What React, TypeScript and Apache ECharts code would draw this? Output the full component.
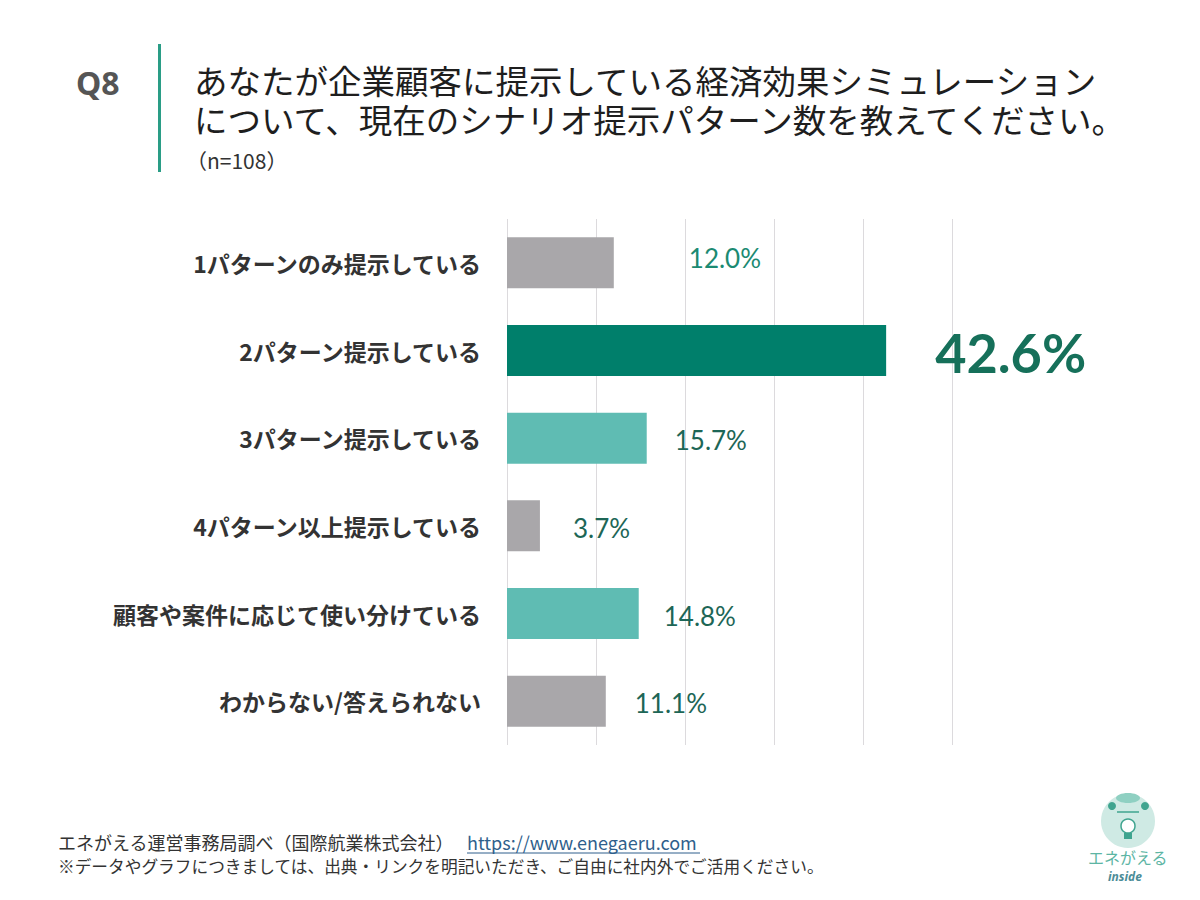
import React, { useEffect, useRef } from "react";
import * as echarts from "echarts";

// Survey answers (n=108), top to bottom
const categories = [
  "1パターンのみ提示している",
  "2パターン提示している",
  "3パターン提示している",
  "4パターン以上提示している",
  "顧客や案件に応じて使い分けている",
  "わからない/答えられない",
];
const values = [12.0, 42.6, 15.7, 3.7, 14.8, 11.1];
const axisTicks = [0, 10, 20, 30, 40, 50];

// Bar fills and label placement per row
const barColors = ["#a9a7aa", "#007f6b", "#5fbcb3", "#a9a7aa", "#5fbcb3", "#a9a7aa"];
const labelGaps = [75, 49, 28, 33, 25, 29];

const JP = "'Noto Sans CJK JP', sans-serif";

export default function App() {
  const ref = useRef<HTMLDivElement>(null);

  useEffect(() => {
    if (!ref.current) return;
    const chart = echarts.init(ref.current, null, { renderer: "svg" });

    const data = values.map((v, i) => {
      const big = i === 1;
      return {
        value: v,
        itemStyle: { color: barColors[i] },
        label: {
          show: true,
          position: "right",
          distance: labelGaps[i],
          formatter: (p: any) => `${Number(p.value).toFixed(1)}%`,
          fontFamily: "Lato, 'Open Sans', sans-serif",
          fontSize: big ? 54 : 26,
          fontWeight: big ? "bold" : "normal",
          color: i === 0 ? "#1b8a72" : big ? "#16705a" : "#1d6656",
          offset: [0, i === 0 ? -5 : 2],
        },
      };
    });

    chart.setOption({
      animation: false,
      backgroundColor: "#ffffff",
      grid: { left: 507, right: 248, top: 219, bottom: 155, containLabel: false },
      xAxis: {
        type: "value",
        min: axisTicks[0],
        max: axisTicks[axisTicks.length - 1],
        interval: axisTicks[1] - axisTicks[0],
        axisLabel: { show: false },
        axisLine: { show: false },
        axisTick: { show: false },
        splitLine: { show: true, lineStyle: { color: "#dcdadd", width: 1 } },
      },
      yAxis: {
        type: "category",
        data: categories,
        inverse: true,
        axisLine: { show: false },
        axisTick: { show: false },
        axisLabel: {
          margin: 26,
          fontSize: 23,
          fontWeight: "bold",
          color: "#333333",
          fontFamily: JP,
        },
      },
      series: [
        {
          type: "bar",
          data,
          barWidth: 51,
        },
      ],
      graphic: [
        // Question header
        {
          type: "text",
          x: 76,
          y: 82,
          style: {
            text: "Q8",
            fontSize: 32,
            fontWeight: "bold",
            fill: "#555555",
            fontFamily: "'Noto Sans', sans-serif",
            verticalAlign: "middle",
          },
        },
        {
          type: "rect",
          shape: { x: 158, y: 44, width: 3, height: 128 },
          style: { fill: "#2a9d86" },
        },
        {
          type: "text",
          x: 194,
          y: 99,
          style: {
            text:
              "あなたが企業顧客に提示している経済効果シミュレーション\nについて、現在のシナリオ提示パターン数を教えてください。",
            fontSize: 33.5,
            lineHeight: 39,
            fill: "#1e1e1e",
            fontFamily: JP,
            verticalAlign: "middle",
          },
        },
        {
          type: "text",
          x: 186,
          y: 160,
          style: {
            text: "（n=108）",
            fontSize: 21,
            fill: "#333333",
            fontFamily: JP,
            verticalAlign: "middle",
          },
        },
        // Source footer
        {
          type: "text",
          x: 58,
          y: 842,
          style: {
            text: "エネがえる運営事務局調べ（国際航業株式会社）",
            fontSize: 18,
            fill: "#333333",
            fontFamily: JP,
            verticalAlign: "middle",
          },
        },
        {
          type: "text",
          x: 467,
          y: 842,
          style: {
            text: "https://www.enegaeru.com",
            fontSize: 18,
            fill: "#2f5f8c",
            fontFamily: JP,
            verticalAlign: "middle",
          },
        },
        {
          type: "line",
          shape: { x1: 467, y1: 853, x2: 700, y2: 853 },
          style: { stroke: "#2f5f8c", lineWidth: 1 },
        },
        {
          type: "text",
          x: 58,
          y: 866,
          style: {
            text: "※データやグラフにつきましては、出典・リンクを明記いただき、ご自由に社内外でご活用ください。",
            fontSize: 16.7,
            fill: "#333333",
            fontFamily: JP,
            verticalAlign: "middle",
          },
        },
        // Brand mark
        {
          type: "group",
          children: [
            { type: "circle", shape: { cx: 1128, cy: 821, r: 27 }, style: { fill: "#cfeae4" } },
            { type: "ellipse", shape: { cx: 1128, cy: 798, rx: 12, ry: 5 }, style: { fill: "#8fd0c2" } },
            { type: "circle", shape: { cx: 1112, cy: 806, r: 4 }, style: { fill: "#3fa48f" } },
            { type: "circle", shape: { cx: 1145, cy: 806, r: 4 }, style: { fill: "#3fa48f" } },
            { type: "line", shape: { x1: 1117, y1: 812, x2: 1139, y2: 812 }, style: { stroke: "#3fa48f", lineWidth: 1.5 } },
            { type: "circle", shape: { cx: 1128, cy: 826, r: 7 }, style: { fill: "#ffffff", stroke: "#3fa48f", lineWidth: 1.5 } },
            { type: "rect", shape: { x: 1124, y: 833, width: 8, height: 6 }, style: { fill: "#3fa48f" } },
          ],
        },
        {
          type: "text",
          x: 1088,
          y: 857,
          style: {
            text: "エネがえる",
            fontSize: 16,
            fill: "#5db5a4",
            fontFamily: JP,
            verticalAlign: "middle",
          },
        },
        {
          type: "text",
          x: 1108,
          y: 876,
          style: {
            text: "inside",
            fontSize: 12,
            fontStyle: "italic",
            fontWeight: "bold",
            fill: "#4b8c97",
            fontFamily: "'Noto Sans', sans-serif",
            verticalAlign: "middle",
          },
        },
      ],
    });

    return () => chart.dispose();
  }, []);

  return (
    <div
      ref={ref}
      style={{ position: "absolute", left: 0, top: 0, width: 1200, height: 900, background: "#fff" }}
    />
  );
}
